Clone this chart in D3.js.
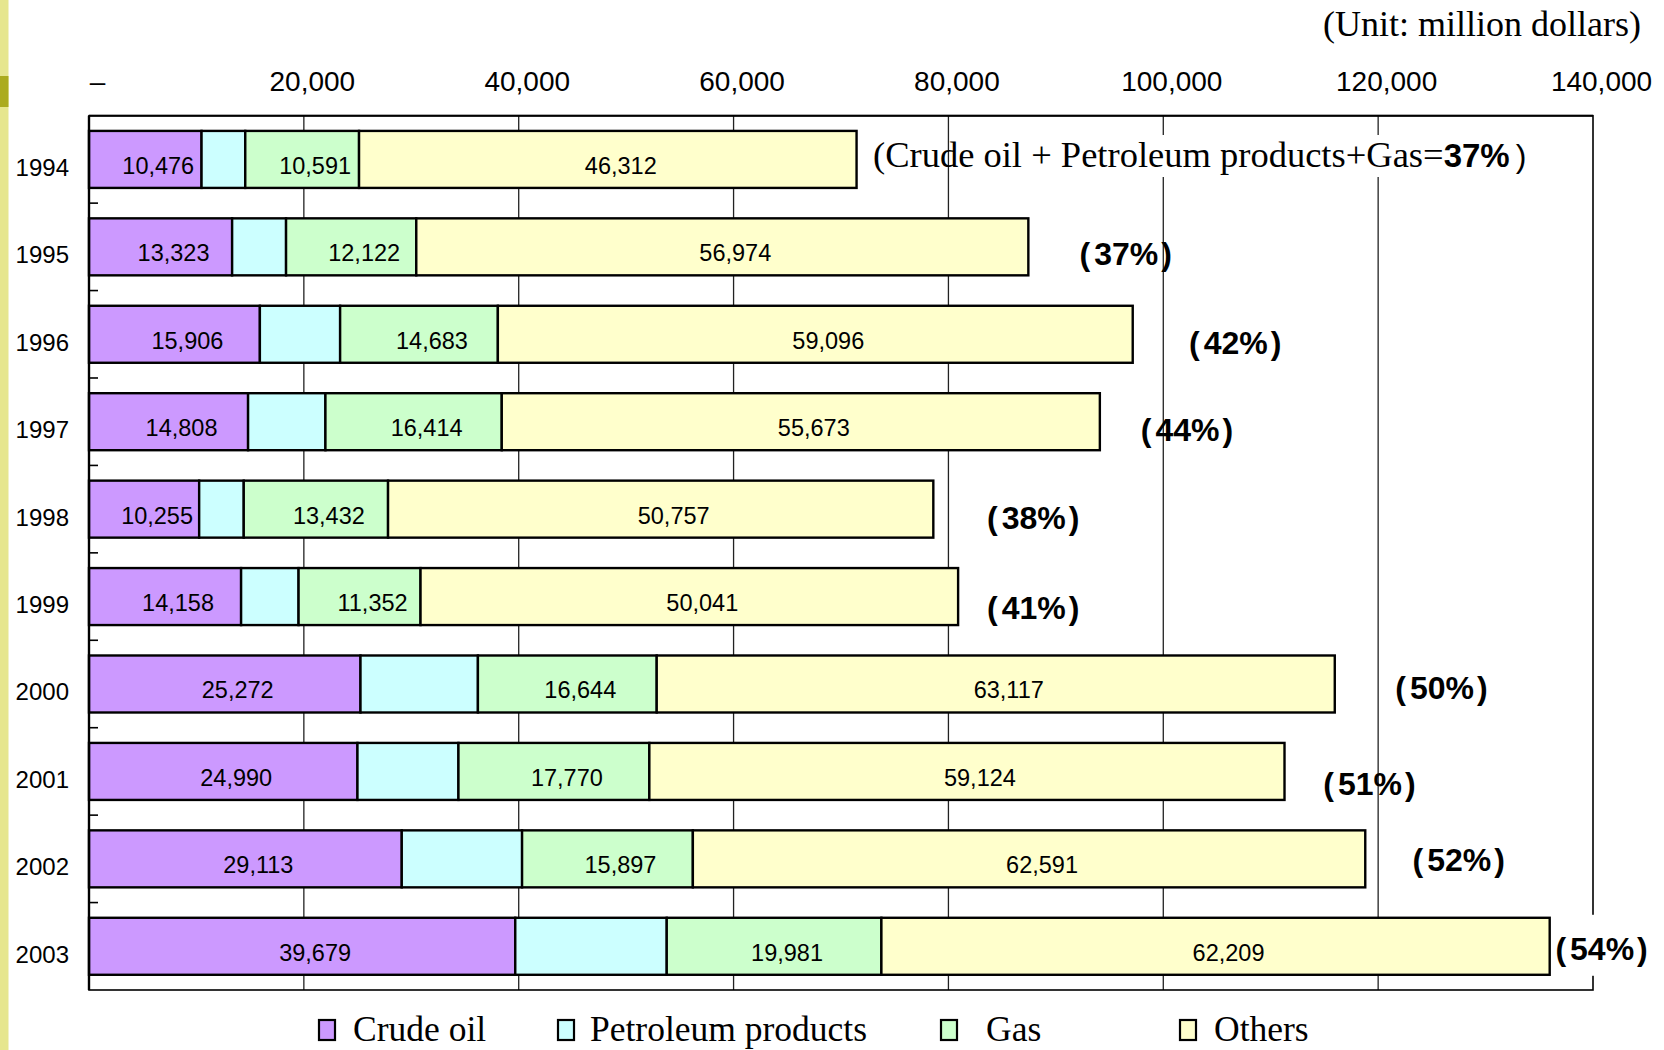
<!DOCTYPE html>
<html>
<head>
<meta charset="utf-8">
<script src="https://cdn.jsdelivr.net/npm/d3@7"></script>
<style>
  body { margin: 0; background: #fff; }
</style>
</head>
<body>
<script>
// values in million dollars
const years = ["1994", "1995", "1996", "1997", "1998", "1999", "2000", "2001", "2002", "2003"];
const crudeOil = [10476, 13323, 15906, 14808, 10255, 14158, 25272, 24990, 29113, 39679];
// petroleum products carry no label in the original
const petroleumProducts = [4070, 5020, 7470, 7200, 4150, 5350, 10930, 9400, 11200, 14100];
const gas = [10591, 12122, 14683, 16414, 13432, 11352, 16644, 17770, 15897, 19981];
const others = [46312, 56974, 59096, 55673, 50757, 50041, 63117, 59124, 62591, 62209];

const seriesKeys = ["crude", "petro", "gas", "others"];
const seriesNames = ["Crude oil", "Petroleum products", "Gas", "Others"];
const showLabel = [true, false, true, true];
const xTicks = [0, 20000, 40000, 60000, 80000, 100000, 120000, 140000];

// share of crude oil + petroleum products + gas, and where the note starts (in dollars)
const shares = ["37%", "37%", "42%", "44%", "38%", "41%", "50%", "51%", "52%", "54%"];
const noteAt = [72980, 92200, 102400, 97900, 83600, 83600, 121600, 114900, 123200, 136500];

const rows = years.map((y, i) => ({
  year: y, crude: crudeOil[i], petro: petroleumProducts[i], gas: gas[i], others: others[i]
}));

// ---- layout
const W = 1664, H = 1050;
const plotL = 89, plotR = 1593, plotT = 115.7, plotB = 990;
const colors = ["#CC99FF", "#CCFFFF", "#CCFFCC", "#FFFFCC"];
const sans = "'Liberation Sans', Arial, sans-serif";
const serif = "'Liberation Serif', 'Times New Roman', serif";
const noteDy = [8, 18, 19.8, 18.9, 19.5, 22.1, 14.7, 23.3, 11.9, 13.5];

const svg = d3.select("body").append("svg")
  .attr("width", W).attr("height", H)
  .style("display", "block");

svg.append("rect").attr("width", W).attr("height", H).attr("fill", "#fff");

// slide edge strip
svg.append("rect").attr("x", 0).attr("y", 0).attr("width", 8.5).attr("height", H).attr("fill", "#e6e68e");
svg.append("rect").attr("x", 0).attr("y", 76).attr("width", 8.5).attr("height", 31).attr("fill", "#abab1e");

const x = d3.scaleLinear().domain([0, 140000]).range([plotL, plotR]);
const y = d3.scaleBand().domain(years).range([plotT, plotB])
  .paddingInner(0.348).paddingOuter(0.174);

// gridlines
svg.append("g")
  .selectAll("line")
  .data(xTicks.slice(1, -1))
  .join("line")
  .attr("x1", d => x(d)).attr("x2", d => x(d))
  .attr("y1", plotT).attr("y2", plotB)
  .attr("stroke", "#222").attr("stroke-width", 1.3);

// white box behind the first note
svg.append("rect")
  .attr("x", 965).attr("y", 135).attr("width", 590).attr("height", 42)
  .attr("fill", "#fff");

// bars
const stack = d3.stack().keys(seriesKeys)(rows);

const layers = svg.append("g")
  .selectAll("g")
  .data(stack)
  .join("g")
  .attr("fill", (d, i) => colors[i]);

layers.selectAll("rect")
  .data(d => d)
  .join("rect")
  .attr("x", d => x(d[0]))
  .attr("y", d => y(d.data.year))
  .attr("width", d => x(d[1]) - x(d[0]))
  .attr("height", y.bandwidth())
  .attr("stroke", "#000")
  .attr("stroke-width", 2.4);

// value labels
layers.filter((d, i) => showLabel[i])
  .selectAll("text")
  .data(d => d)
  .join("text")
  .attr("x", d => (x(d[0]) + x(d[1])) / 2 + 13)
  .attr("y", d => y(d.data.year) + y.bandwidth() / 2 + 14.5)
  .attr("text-anchor", "middle")
  .attr("font-family", sans)
  .attr("font-size", 23.5)
  .attr("fill", "#000")
  .text(d => d3.format(",")(d[1] - d[0]));

// frame
svg.append("rect")
  .attr("x", plotL).attr("y", plotT)
  .attr("width", plotR - plotL).attr("height", plotB - plotT)
  .attr("fill", "none").attr("stroke", "#000").attr("stroke-width", 1.6);
svg.append("line")
  .attr("x1", plotL).attr("x2", plotL).attr("y1", plotT).attr("y2", plotB)
  .attr("stroke", "#000").attr("stroke-width", 2.4);
svg.append("line")
  .attr("x1", plotL).attr("x2", plotR).attr("y1", plotT).attr("y2", plotT)
  .attr("stroke", "#000").attr("stroke-width", 2);

// white box behind the last note, it hides the frame there
svg.append("rect")
  .attr("x", x(noteAt[9]) - 3).attr("y", y("2003") - 3)
  .attr("width", 100).attr("height", y.bandwidth() + 4)
  .attr("fill", "#fff");

// small category ticks between bands
svg.append("g")
  .selectAll("line")
  .data(years.slice(0, -1))
  .join("line")
  .attr("x1", plotL).attr("x2", plotL + 9)
  .attr("y1", d => y(d) + y.bandwidth() + (y.step() - y.bandwidth()) / 2)
  .attr("y2", d => y(d) + y.bandwidth() + (y.step() - y.bandwidth()) / 2)
  .attr("stroke", "#000").attr("stroke-width", 1.6);

// top value axis
const xAxis = svg.append("g")
  .attr("transform", `translate(0,${plotT})`)
  .call(d3.axisTop(x).tickValues(xTicks).tickSize(0).tickPadding(25)
    .tickFormat(d => d === 0 ? "–" : d3.format(",")(d)));
xAxis.select(".domain").remove();
xAxis.selectAll("text")
  .attr("dx", 8)
  .attr("font-family", sans)
  .attr("font-size", 28)
  .attr("fill", "#000");

// year axis
const yAxis = svg.append("g")
  .attr("transform", `translate(${plotL},0)`)
  .call(d3.axisLeft(y).tickSize(0).tickPadding(20));
yAxis.select(".domain").remove();
yAxis.selectAll("text")
  .attr("dy", null)
  .attr("y", 16.5)
  .attr("font-family", sans)
  .attr("font-size", 24)
  .attr("fill", "#000");

// unit
svg.append("text")
  .attr("x", 1641).attr("y", 36)
  .attr("text-anchor", "end")
  .attr("font-family", serif)
  .attr("font-size", 36)
  .text("(Unit: million dollars)");

// share notes
const notes = svg.append("g")
  .selectAll("text")
  .data(years)
  .join("text")
  .attr("x", (d, i) => x(noteAt[i]))
  .attr("y", (d, i) => y(d) + y.bandwidth() / 2 + noteDy[i])
  .attr("fill", "#000");

notes.each(function (d, i) {
  const t = d3.select(this);
  if (i === 0) {
    t.append("tspan")
      .attr("font-family", serif).attr("font-size", 36.5)
      .text("(Crude oil + Petroleum products+Gas=");
    t.append("tspan")
      .attr("font-family", sans).attr("font-size", 33).attr("font-weight", "bold")
      .text(shares[i]);
    t.append("tspan")
      .attr("dx", 6)
      .attr("font-family", sans).attr("font-size", 32)
      .text(")");
  } else {
    t.append("tspan")
      .attr("font-family", sans).attr("font-size", 32).attr("font-weight", "bold")
      .text("(");
    t.append("tspan")
      .attr("dx", 4)
      .attr("font-family", sans).attr("font-size", 32).attr("font-weight", "bold")
      .text(shares[i]);
    t.append("tspan")
      .attr("dx", 3)
      .attr("font-family", sans).attr("font-size", 32).attr("font-weight", "bold")
      .text(")");
  }
});

// legend
const legendBox = [319, 558, 941, 1180];
const legendText = [353, 590, 986, 1214];
const legend = svg.append("g")
  .selectAll("g")
  .data(seriesNames)
  .join("g");
legend.append("rect")
  .attr("x", (d, i) => legendBox[i]).attr("y", 1020)
  .attr("width", 16).attr("height", 20)
  .attr("fill", (d, i) => colors[i])
  .attr("stroke", "#000").attr("stroke-width", 2.2);
legend.append("text")
  .attr("x", (d, i) => legendText[i]).attr("y", 1041)
  .attr("font-family", serif)
  .attr("font-size", 35.5)
  .text(d => d);
</script>
</body>
</html>
